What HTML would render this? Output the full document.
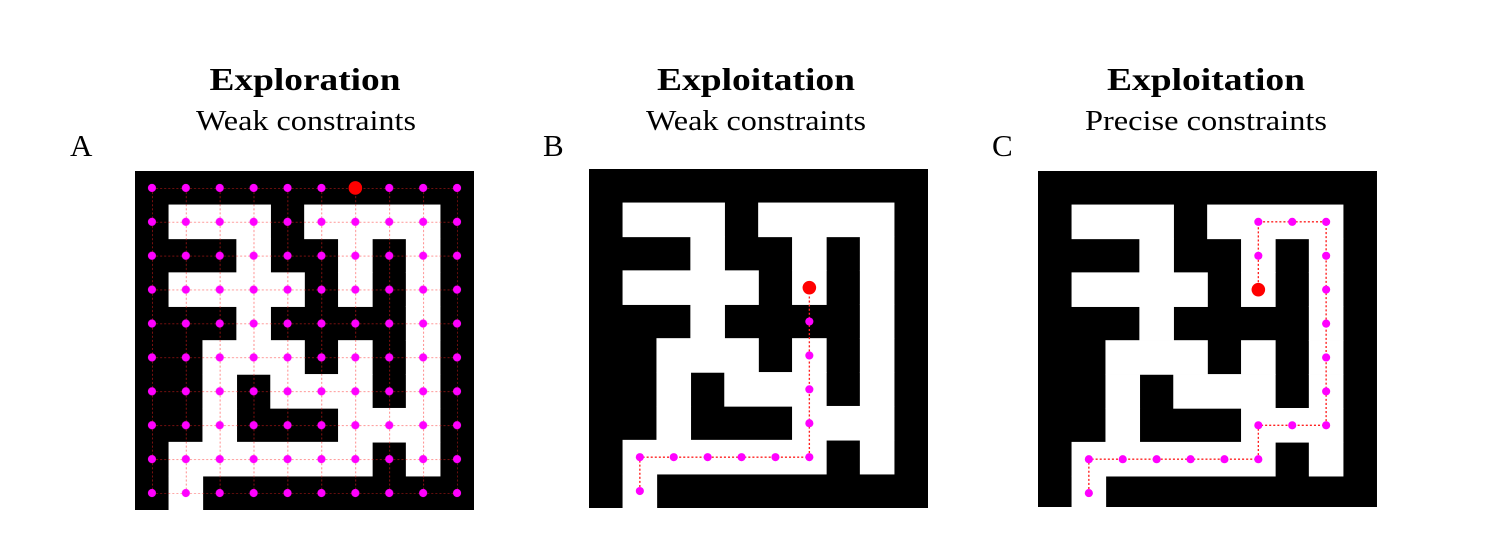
<!DOCTYPE html>
<html><head><meta charset="utf-8"><style>
html,body{margin:0;padding:0;background:#fff;}
svg{display:block;}
text{font-family:"Liberation Serif",serif;fill:#000;}
</style></head><body>
<svg width="1495" height="547" viewBox="0 0 1495 547" xmlns="http://www.w3.org/2000/svg">
<defs>
  <g id="maze">
    <rect x="0" y="0" width="10" height="10" fill="#000"/>
    <g fill="#fff" stroke="#fff" stroke-width="0.02">
      <rect x="1" y="1" width="3" height="1"/><rect x="5" y="1" width="4" height="1"/>
      <rect x="3" y="2" width="1" height="1"/><rect x="6" y="2" width="1" height="1"/><rect x="8" y="2" width="1" height="1"/>
      <rect x="1" y="3" width="4" height="1"/><rect x="6" y="3" width="1" height="1"/><rect x="8" y="3" width="1" height="1"/>
      <rect x="3" y="4" width="1" height="1"/><rect x="8" y="4" width="1" height="1"/>
      <rect x="2" y="5" width="3" height="1"/><rect x="6" y="5" width="1" height="1"/><rect x="8" y="5" width="1" height="1"/>
      <rect x="2" y="6" width="1" height="1"/><rect x="4" y="6" width="3" height="1"/><rect x="8" y="6" width="1" height="1"/>
      <rect x="2" y="7" width="1" height="1"/><rect x="6" y="7" width="3" height="1"/>
      <rect x="1" y="8" width="6" height="1"/><rect x="8" y="8" width="1" height="1"/>
      <rect x="1" y="9" width="1" height="1"/>
    </g>
  </g>
  <pattern id="dots" patternUnits="userSpaceOnUse" width="1" height="1">
    <circle cx="0.5" cy="0.5" r="0.12" fill="#ff00ff"/>
  </pattern>
  <pattern id="gridl" patternUnits="userSpaceOnUse" x="0.5" y="0.5" width="1" height="1">
    <line x1="0" y1="0" x2="1" y2="0" stroke="#ff2020" stroke-width="0.04" stroke-dasharray="0.06 0.06" opacity="0.75"/>
    <line x1="0" y1="0" x2="0" y2="1" stroke="#ff2020" stroke-width="0.04" stroke-dasharray="0.06 0.06" opacity="0.75"/>
  </pattern>
</defs>

<text x="305" y="90" font-size="32" font-weight="bold" text-anchor="middle" textLength="191" lengthAdjust="spacingAndGlyphs">Exploration</text>
<text x="306" y="130" font-size="28" text-anchor="middle" textLength="220" lengthAdjust="spacingAndGlyphs">Weak constraints</text>
<text x="70" y="156" font-size="31">A</text>

<text x="756" y="90" font-size="32" font-weight="bold" text-anchor="middle" textLength="198" lengthAdjust="spacingAndGlyphs">Exploitation</text>
<text x="756" y="130" font-size="28" text-anchor="middle" textLength="220" lengthAdjust="spacingAndGlyphs">Weak constraints</text>
<text x="543" y="156" font-size="31">B</text>

<text x="1206" y="90" font-size="32" font-weight="bold" text-anchor="middle" textLength="198" lengthAdjust="spacingAndGlyphs">Exploitation</text>
<text x="1206" y="130" font-size="28" text-anchor="middle" textLength="242" lengthAdjust="spacingAndGlyphs">Precise constraints</text>
<text x="992" y="156" font-size="31">C</text>

<g transform="translate(135,171) scale(33.9)">
  <use href="#maze"/>
  <rect x="0.5" y="0.5" width="9.02" height="9.02" fill="url(#gridl)"/>
  <rect x="0" y="0" width="10" height="10" fill="url(#dots)"/>
  <circle cx="6.5" cy="0.5" r="0.2" fill="#ff0000"/>
</g>

<g transform="translate(589,169) scale(33.9)">
  <use href="#maze"/>
  <polyline points="1.5,9.5 1.5,8.5 6.5,8.5 6.5,3.5" fill="none" stroke="#ff2020" stroke-width="0.04" stroke-dasharray="0.06 0.06"/>
  <g fill="#ff00ff">
    <circle cx="1.5" cy="9.5" r="0.12"/><circle cx="1.5" cy="8.5" r="0.12"/><circle cx="2.5" cy="8.5" r="0.12"/>
    <circle cx="3.5" cy="8.5" r="0.12"/><circle cx="4.5" cy="8.5" r="0.12"/><circle cx="5.5" cy="8.5" r="0.12"/>
    <circle cx="6.5" cy="8.5" r="0.12"/><circle cx="6.5" cy="7.5" r="0.12"/><circle cx="6.5" cy="6.5" r="0.12"/>
    <circle cx="6.5" cy="5.5" r="0.12"/><circle cx="6.5" cy="4.5" r="0.12"/>
  </g>
  <circle cx="6.5" cy="3.5" r="0.2" fill="#ff0000"/>
</g>

<svg x="1038" y="171" width="340" height="336" viewBox="0 0 10.03 9.91" preserveAspectRatio="none" overflow="hidden">
  <use href="#maze"/>
  <polyline points="1.5,9.5 1.5,8.5 6.5,8.5 6.5,7.5 8.5,7.5 8.5,1.5 6.5,1.5 6.5,3.5" fill="none" stroke="#ff2020" stroke-width="0.04" stroke-dasharray="0.06 0.06"/>
  <g fill="#ff00ff">
    <circle cx="1.5" cy="9.5" r="0.12"/><circle cx="1.5" cy="8.5" r="0.12"/><circle cx="2.5" cy="8.5" r="0.12"/>
    <circle cx="3.5" cy="8.5" r="0.12"/><circle cx="4.5" cy="8.5" r="0.12"/><circle cx="5.5" cy="8.5" r="0.12"/>
    <circle cx="6.5" cy="8.5" r="0.12"/><circle cx="6.5" cy="7.5" r="0.12"/><circle cx="7.5" cy="7.5" r="0.12"/>
    <circle cx="8.5" cy="7.5" r="0.12"/><circle cx="8.5" cy="6.5" r="0.12"/><circle cx="8.5" cy="5.5" r="0.12"/>
    <circle cx="8.5" cy="4.5" r="0.12"/><circle cx="8.5" cy="3.5" r="0.12"/><circle cx="8.5" cy="2.5" r="0.12"/>
    <circle cx="8.5" cy="1.5" r="0.12"/><circle cx="7.5" cy="1.5" r="0.12"/><circle cx="6.5" cy="1.5" r="0.12"/>
    <circle cx="6.5" cy="2.5" r="0.12"/>
  </g>
  <circle cx="6.5" cy="3.5" r="0.2" fill="#ff0000"/>
</svg>
</svg>
</body></html>
